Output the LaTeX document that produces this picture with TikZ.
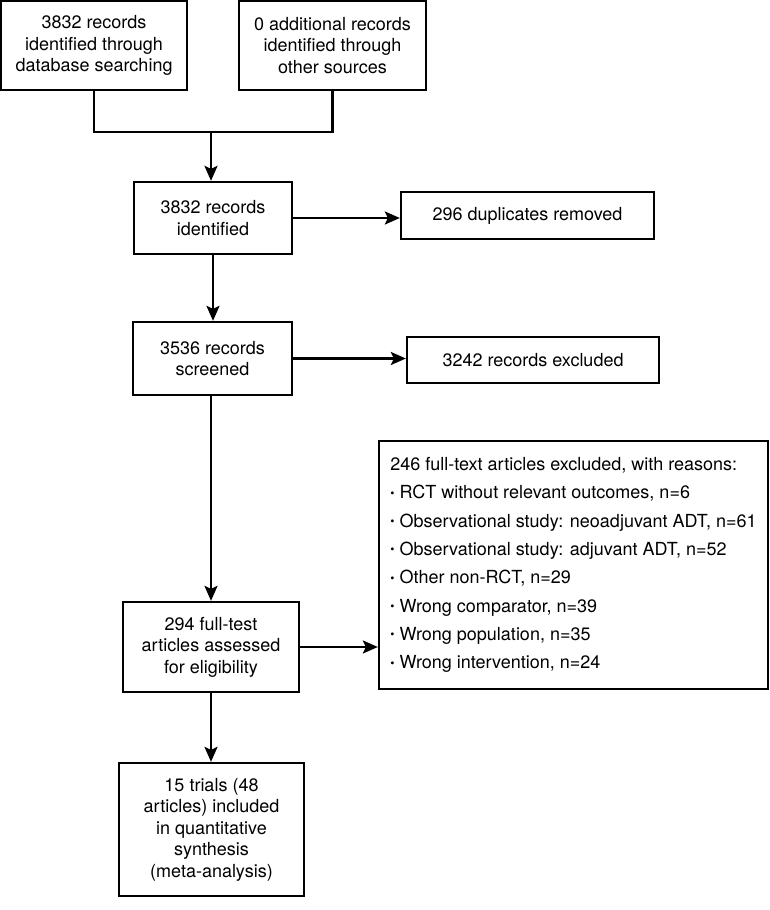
\documentclass[tikz,border=0pt]{standalone}
\usepackage{fontspec}
\setmainfont{TeX Gyre Heros}
\usetikzlibrary{arrows.meta}

\newcommand{\dotmark}{\raisebox{1.6pt}{\fontsize{12}{12}\selectfont\textbullet}}

\begin{document}
\begin{tikzpicture}[x=1pt,y=-1pt,
    box/.style={draw,line width=2.3pt,align=center,inner sep=0pt,font=\fontsize{18}{21.5}\selectfont},
    arr/.style={line width=2.3pt,-{Stealth[length=15pt,width=13pt,inset=3pt]}}]
    \useasboundingbox (0,0) rectangle (769,910);

    \node[box,minimum width=186,minimum height=89] (db) at (94,45.5) {3832 records\\identified through\\database searching};
    \node[box,minimum width=187,minimum height=89] (other) at (332.5,45.5) {0 additional records\\identified through\\other sources};

    \coordinate (join) at (211,132);
    \draw[line width=2.3pt] (db.south) |- (join) -| (other.south);

    \node[box,minimum width=158,minimum height=72] (ident) at (213,218) {3832 records\\identified};
    \node[box,minimum width=253,minimum height=47] (dup) at (527.5,215.5) {296 duplicates removed};

    \node[box,minimum width=159,minimum height=73] (screen) at (212.5,358.5) {3536 records\\screened};
    \node[box,minimum width=252,minimum height=46] (excl) at (533,360) {3242 records excluded};

    \node[box,minimum width=176,minimum height=90] (full) at (211,647) {294 full-test\\articles assessed\\for eligibility};
    \node[box,minimum width=389,minimum height=248,align=left,font=\fontsize{18}{28.3}\selectfont] (reasons) at (573.5,565)
        {246 full-text articles excluded, with reasons:\\
        \dotmark{} RCT without relevant outcomes, n=6\\
        \dotmark{} Observational study: neoadjuvant ADT, n=61\\
        \dotmark{} Observational study: adjuvant ADT, n=52\\
        \dotmark{} Other non-RCT, n=29\\
        \dotmark{} Wrong comparator, n=39\\
        \dotmark{} Wrong population, n=35\\
        \dotmark{} Wrong intervention, n=24};

    \node[box,minimum width=185,minimum height=133] (incl) at (211.5,829.5) {15 trials (48\\articles) included\\in quantitative\\synthesis\\(meta-analysis)};

    \draw[arr] (join) -- (join |- ident.north);
    \draw[arr] (ident.east) -- (ident.east -| dup.west);
    \draw[arr] (ident.south) -- (ident.south |- screen.north);
    \draw[arr] (screen.east) -- (screen.east -| excl.west);
    \draw[arr] (full.north |- screen.south) -- (full.north);
    \draw[arr] (full.east) -- (full.east -| reasons.west);
    \draw[arr] (full.south) -- (full.south |- incl.north);
\end{tikzpicture}
\end{document}
